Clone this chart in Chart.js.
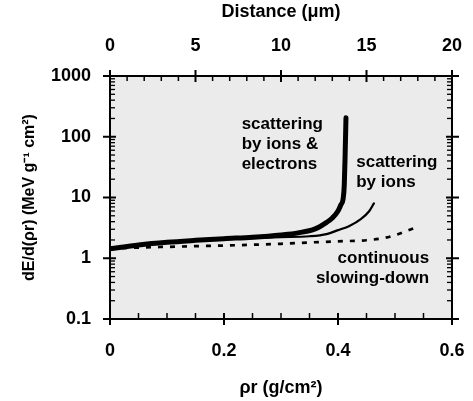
<!DOCTYPE html>
<html>
<head>
<meta charset="utf-8">
<script src="https://cdn.jsdelivr.net/npm/chart.js@4"></script>
<style>
  html, body { margin: 0; padding: 0; background: #fff; }
  #wrap { width: 473px; height: 401px; }
</style>
</head>
<body>
<div id="wrap"><canvas id="chart" width="473" height="401"></canvas></div>
<script>
// tick labels
const rhoTicks = [0, 0.2, 0.4, 0.6];
const distTicks = [0, 5, 10, 15, 20];
const dedxTicks = [0.1, 1, 10, 100, 1000];

// scattering by ions & electrons (thick)
const rhoIonsElectrons = [0, 0.05, 0.1, 0.15, 0.2, 0.25, 0.3, 0.33, 0.36, 0.38, 0.39, 0.4, 0.405, 0.409, 0.411, 0.4125, 0.414];
const dedxIonsElectrons = [1.43, 1.65, 1.83, 1.97, 2.1, 2.22, 2.42, 2.62, 3.05, 3.9, 4.6, 6.0, 7.6, 9.5, 16, 50, 205];

// scattering by ions (thin)
const rhoIons = [0, 0.05, 0.1, 0.15, 0.2, 0.25, 0.3, 0.35, 0.38, 0.4, 0.42, 0.44, 0.455, 0.463];
const dedxIons = [1.43, 1.65, 1.83, 1.97, 2.08, 2.15, 2.22, 2.3, 2.5, 2.9, 3.4, 4.4, 6.0, 8.0];

// continuous slowing-down (dashed)
const rhoCsda = [0, 0.05, 0.1, 0.15, 0.2, 0.25, 0.3, 0.35, 0.4, 0.45, 0.48, 0.5, 0.52, 0.54];
const dedxCsda = [1.43, 1.5, 1.54, 1.58, 1.62, 1.67, 1.73, 1.82, 1.9, 1.98, 2.15, 2.4, 2.8, 3.3];

const toPoints = (xs, ys) => xs.map((x, i) => ({ x: x, y: ys[i] }));

const FONT = '"Liberation Sans", Arial, sans-serif';

// grey plot area, frame, major/minor ticks, curve labels
const framePlugin = {
  id: 'frame',
  beforeDatasetsDraw(chart) {
    const { ctx, chartArea: a } = chart;
    ctx.save();
    ctx.fillStyle = '#ebebeb';
    ctx.fillRect(a.left, a.top, a.right - a.left, a.bottom - a.top);
    ctx.restore();
  },
  afterDatasetsDraw(chart) {
    const { ctx, chartArea: a, scales } = chart;
    const x = scales.x, x2 = scales.x2, y = scales.y;
    ctx.save();
    ctx.strokeStyle = '#000';
    ctx.lineWidth = 2;
    ctx.strokeRect(a.left, a.top, a.right - a.left, a.bottom - a.top);

    const line = (x0, y0, x1, y1, w) => {
      ctx.lineWidth = w;
      ctx.beginPath();
      ctx.moveTo(x0, y0);
      ctx.lineTo(x1, y1);
      ctx.stroke();
    };

    // bottom axis
    for (let v = 0; v <= 0.6001; v += 0.05) {
      const px = x.getPixelForValue(v);
      const major = Math.abs(v / 0.2 - Math.round(v / 0.2)) < 1e-6;
      if (major) line(px, a.bottom + 6, px, a.bottom - 6, 2);
      else line(px, a.bottom, px, a.bottom - 6, 1.5);
    }
    // top axis
    for (let v = 0; v <= 20; v += 1) {
      const px = x2.getPixelForValue(v);
      if (v % 5 === 0) line(px, a.top - 6, px, a.top + 6, 2);
      else line(px, a.top, px, a.top + 5, 1.5);
    }
    // left and right axes
    for (let d = -1; d <= 3; d++) {
      const dec = Math.pow(10, d);
      const py = y.getPixelForValue(dec);
      line(a.left - 7, py, a.left + 6, py, 2);
      line(a.right - 6, py, a.right + 7, py, 2);
      if (d === 3) break;
      for (let m = 2; m <= 9; m++) {
        const pm = y.getPixelForValue(m * dec);
        line(a.left, pm, a.left + 5, pm, 1.3);
        line(a.right - 5, pm, a.right, pm, 1.3);
      }
    }

    // curve labels
    ctx.fillStyle = '#000';
    ctx.font = 'bold 17px ' + FONT;
    ctx.textBaseline = 'middle';
    const label = (lines, xv, yv, align) => {
      ctx.textAlign = align;
      const px = x.getPixelForValue(xv);
      const py = y.getPixelForValue(yv);
      lines.forEach((t, i) => ctx.fillText(t, px, py + i * 20));
    };
    label(['scattering', 'by ions &', 'electrons'], 0.231, 163, 'left');
    label(['scattering', 'by ions'], 0.432, 37.9, 'left');
    label(['continuous', 'slowing-down'], 0.560, 1.0, 'right');
    ctx.restore();
  }
};

// keep tick labels from widening the chart edges
const noSidePad = (s) => { s.paddingLeft = 0; s.paddingRight = 0; };

new Chart(document.getElementById('chart'), {
  type: 'line',
  data: {
    datasets: [
      {
        label: 'scattering by ions & electrons',
        data: toPoints(rhoIonsElectrons, dedxIonsElectrons),
        borderColor: '#000',
        borderWidth: 5,
        borderCapStyle: 'round',
        cubicInterpolationMode: 'monotone',
        pointRadius: 0
      },
      {
        label: 'scattering by ions',
        data: toPoints(rhoIons, dedxIons),
        borderColor: '#000',
        borderWidth: 2.2,
        borderCapStyle: 'round',
        cubicInterpolationMode: 'monotone',
        pointRadius: 0
      },
      {
        label: 'continuous slowing-down',
        data: toPoints(rhoCsda, dedxCsda),
        borderColor: '#000',
        borderWidth: 2.7,
        borderDash: [5, 7],
        cubicInterpolationMode: 'monotone',
        pointRadius: 0
      }
    ]
  },
  options: {
    responsive: false,
    animation: false,
    layout: { padding: { left: 0, right: 21, top: 0, bottom: 0 } },
    plugins: {
      legend: { display: false },
      tooltip: { enabled: false }
    },
    scales: {
      x: {
        type: 'linear',
        position: 'bottom',
        min: 0,
        max: 0.6,
        grid: { display: false, drawTicks: false },
        border: { display: false },
        afterBuildTicks: (s) => { s.ticks = rhoTicks.map(v => ({ value: v })); },
        afterFit: (s) => { s.height = 82; noSidePad(s); },
        ticks: {
          padding: 21,
          color: '#000',
          font: { family: FONT, size: 18, weight: 'bold' },
          callback: (v) => String(+v.toFixed(2))
        },
        title: {
          display: true,
          text: 'ρr (g/cm²)',
          color: '#000',
          font: { family: FONT, size: 18, weight: 'bold' },
          padding: { top: 0, bottom: 2 }
        }
      },
      x2: {
        type: 'linear',
        position: 'top',
        min: 0,
        max: 20,
        grid: { display: false, drawTicks: false },
        border: { display: false },
        afterBuildTicks: (s) => { s.ticks = distTicks.map(v => ({ value: v })); },
        afterFit: (s) => { s.height = 76; noSidePad(s); },
        ticks: {
          padding: 19,
          color: '#000',
          font: { family: FONT, size: 18, weight: 'bold' }
        },
        title: {
          display: true,
          text: 'Distance (μm)',
          color: '#000',
          font: { family: FONT, size: 18, weight: 'bold' },
          padding: { top: 1, bottom: 0 }
        }
      },
      y: {
        type: 'logarithmic',
        position: 'left',
        min: 0.1,
        max: 1000,
        grid: { display: false, drawTicks: false },
        border: { display: false },
        afterBuildTicks: (s) => { s.ticks = dedxTicks.map(v => ({ value: v })); },
        afterFit: (s) => { s.width = 110; },
        ticks: {
          padding: 19,
          color: '#000',
          font: { family: FONT, size: 18, weight: 'bold' },
          callback: (v) => String(v)
        },
        title: {
          display: true,
          text: 'dE/d(ρr) (MeV g⁻¹ cm²)',
          color: '#000',
          font: { family: FONT, size: 16, weight: 'bold' },
          padding: { top: 20, bottom: 0 }
        }
      }
    }
  },
  plugins: [framePlugin]
});
</script>
</body>
</html>
